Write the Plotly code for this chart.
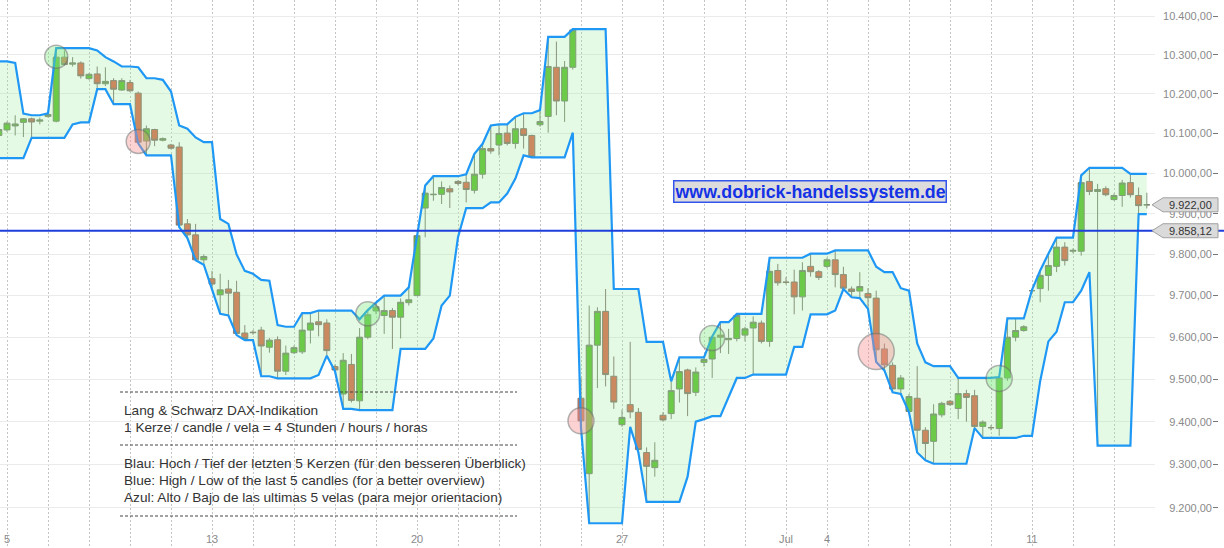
import numpy as np
import pandas as pd
import plotly.graph_objects as go

# ---------------- data (4h candles, index = candle number) ----------------
candle_idx = list(range(-4, 140))
open_ = [10270, 10240, 10140, 10095,
         10109, 10119, 10128, 10137, 10131, 10143, 10131, 10294, 10276, 10279,
         10239, 10251, 10226, 10234, 10210, 10229, 10202, 10081, 10110, 10083,
         10071, 10066, 9875, 9848, 9787, 9741, 9702, 9716, 9708, 9610,
         9612, 9617, 9576, 9594, 9519, 9563, 9565, 9617, 9637, 9634,
         9530, 9465, 9535, 9449, 9600, 9663, 9652, 9664, 9648, 9683,
         9700, 9914, 9947, 9948, 9962, 9980, 9978, 9958, 9998, 10062,
         10071, 10101, 10075, 10112, 10095, 10122, 10143, 10268, 10182, 10268,
         9455, 9279, 9581, 9662, 9507, 9393, 9440, 9422, 9328, 9293,
         9415, 9419, 9477, 9522, 9469, 9540, 9548, 9605, 9594, 9597,
         9605, 9622, 9634, 9590, 9761, 9733, 9733, 9697, 9771, 9758,
         9771, 9787, 9751, 9716, 9711, 9705, 9694, 9572, 9533, 9477,
         9424, 9455, 9380, 9354, 9416, 9448, 9431, 9466, 9461, 9389,
         9386, 9384, 9503, 9600, 9616, 9712, 9717, 9749, 9771, 9818,
         9808, 9808, 9980, 9955, 9962, 9935, 9945, 9977, 9945, 9922]
high = [10283, 10279, 10150, 10130,
        10130, 10146, 10139, 10140, 10140, 10151, 10317, 10311, 10294, 10283,
        10253, 10270, 10268, 10240, 10240, 10236, 10206, 10120, 10112, 10090,
        10074, 10078, 9887, 9875, 9800, 9760, 9753, 9738, 9736, 9629,
        9617, 9625, 9598, 9602, 9580, 9580, 9658, 9656, 9664, 9643,
        9535, 9562, 9560, 9622, 9665, 9683, 9700, 9670, 9693, 9720,
        9848, 9970, 9993, 9980, 9970, 9983, 9998, 10049, 10074, 10120,
        10123, 10123, 10142, 10151, 10097, 10159, 10346, 10334, 10284, 10366,
        9503, 9676, 9672, 9716, 9554, 9428, 9589, 9432, 9340, 9352,
        9422, 9495, 9552, 9525, 9528, 9552, 9602, 9636, 9620, 9656,
        9625, 9650, 9640, 9792, 9777, 9745, 9763, 9781, 9802, 9762,
        9792, 9810, 9770, 9722, 9757, 9718, 9712, 9585, 9540, 9510,
        9465, 9531, 9387, 9441, 9447, 9451, 9503, 9475, 9475, 9403,
        9392, 9505, 9645, 9644, 9629, 9714, 9761, 9802, 9841, 9830,
        9815, 9995, 10014, 9974, 9968, 9950, 9984, 9999, 9965, 9952]
low = [10230, 10150, 10038, 10090,
       10104, 10095, 10091, 10089, 10123, 10140, 10128, 10272, 10270, 10239,
       10236, 10212, 10220, 10174, 10208, 10205, 10075, 10045, 10068, 10080,
       10060, 9867, 9840, 9786, 9775, 9715, 9656, 9652, 9605, 9593,
       9606, 9507, 9563, 9502, 9510, 9560, 9560, 9585, 9602, 9556,
       9519, 9430, 9445, 9427, 9595, 9655, 9608, 9572, 9597, 9676,
       9700, 9842, 9932, 9924, 9914, 9970, 9928, 9950, 9987, 10049,
       10045, 10070, 10062, 10062, 10040, 10117, 10102, 10146, 10129, 10262,
       9385, 9165, 9479, 9483, 9430, 9388, 9408, 9328, 9214, 9272,
       9400, 9406, 9445, 9413, 9460, 9530, 9503, 9562, 9560, 9590,
       9590, 9511, 9585, 9577, 9724, 9727, 9655, 9664, 9746, 9738,
       9767, 9720, 9716, 9696, 9694, 9668, 9541, 9521, 9469, 9465,
       9422, 9328, 9310, 9302, 9410, 9437, 9406, 9400, 9385, 9362,
       9380, 9367, 9496, 9590, 9613, 9708, 9684, 9712, 9757, 9773,
       9803, 9797, 9946, 9344, 9943, 9932, 9917, 9940, 9899, 9913]
close = [10240, 10160, 10095, 10110,
         10126, 10124, 10137, 10129, 10134, 10148, 10294, 10275, 10279, 10246,
         10250, 10226, 10232, 10212, 10234, 10208, 10078, 10112, 10083, 10087,
         10063, 9872, 9848, 9787, 9795, 9728, 9714, 9706, 9609, 9597,
         9611, 9579, 9593, 9519, 9562, 9575, 9617, 9634, 9630, 9568,
         9522, 9545, 9450, 9600, 9654, 9673, 9664, 9648, 9684, 9690,
         9846, 9951, 9948, 9965, 9954, 9975, 9960, 9998, 10062, 10056,
         10100, 10075, 10112, 10095, 10041, 10130, 10270, 10182, 10268, 10364,
         9402, 9581, 9662, 9511, 9446, 9410, 9423, 9335, 9296, 9310,
         9404, 9473, 9518, 9466, 9517, 9547, 9600, 9600, 9597, 9652,
         9620, 9636, 9590, 9759, 9731, 9732, 9697, 9761, 9758, 9744,
         9787, 9751, 9718, 9710, 9722, 9695, 9570, 9534, 9477, 9503,
         9459, 9380, 9349, 9418, 9443, 9440, 9466, 9457, 9389, 9399,
         9386, 9503, 9600, 9616, 9625, 9712, 9749, 9773, 9818, 9785,
         9810, 9977, 9955, 9960, 9947, 9945, 9976, 9947, 9920, 9922]

# breakout signals
sig_green_idx = [6, 44, 86, 121]
sig_green_price = [10295, 9656, 9598, 9502]
sig_green_size = [23, 24, 25, 26]
sig_red_idx = [16, 70, 106]
sig_red_price = [10080, 9402, 9566]
sig_red_size = [24, 26, 36]

# axis ticks
day_tick_idx = [0, 25, 50, 75, 95, 100, 125]
day_tick_text = ["5", "13", "20", "27", "Jul", "4", "11"]
day_grid_idx = list(range(0, 140, 5))
price_ticks = [9200, 9300, 9400, 9500, 9600, 9700, 9800, 9900,
               10000, 10100, 10200, 10300, 10400]
last_price = 9922.00
ref_line = 9858.12

# ---------------- derived: high / low of the last 5 candles ----------------
upper = pd.Series(high).rolling(5, min_periods=1).max().tolist()
lower = pd.Series(low).rolling(5, min_periods=1).min().tolist()

def de_fmt(v):
    s = f"{v:,.2f}"
    return s.replace(",", "X").replace(".", ",").replace("X", ".")

W, H = 1224, 548
XDOM = 1155 / W
YLO, YHI = np.log10(9108.7), np.log10(10441.6)
FONT = "Liberation Sans, Arial, sans-serif"

def yfrac(v):
    return (np.log10(v) - YLO) / (YHI - YLO)

fig = go.Figure()

fig.add_trace(go.Scatter(x=candle_idx, y=lower, mode="lines",
                         line=dict(color="#1f98f5", width=2.2),
                         hoverinfo="skip", showlegend=False))
fig.add_trace(go.Scatter(x=candle_idx, y=upper, mode="lines",
                         line=dict(color="#1f98f5", width=2.2),
                         fill="tonexty", fillcolor="rgba(150,235,150,0.25)",
                         hoverinfo="skip", showlegend=False))

fig.add_trace(go.Candlestick(
    x=candle_idx, open=open_, high=high, low=low, close=close,
    increasing=dict(fillcolor="#5cbf2e", line=dict(color="#7b8570", width=1)),
    decreasing=dict(fillcolor="#dc684c", line=dict(color="#85776f", width=1)),
    whiskerwidth=0, showlegend=False))

fig.add_trace(go.Scatter(x=sig_green_idx, y=sig_green_price, mode="markers",
                         marker=dict(size=sig_green_size, color="rgba(120,235,120,0.5)",
                                     line=dict(color="rgba(110,110,110,0.75)", width=1.5)),
                         hoverinfo="skip", showlegend=False))
fig.add_trace(go.Scatter(x=sig_red_idx, y=sig_red_price, mode="markers",
                         marker=dict(size=sig_red_size, color="rgba(250,140,140,0.55)",
                                     line=dict(color="rgba(110,110,110,0.75)", width=1.5)),
                         hoverinfo="skip", showlegend=False))

tick_lookup = dict(zip(day_tick_idx, day_tick_text))
x_tickvals = sorted(set(day_grid_idx) | set(day_tick_idx))
x_ticktext = [tick_lookup.get(v, "") for v in x_tickvals]

shapes = []
annotations = []

# reference line
yl = yfrac(ref_line)
shapes.append(dict(type="line", xref="paper", yref="paper", x0=0, x1=1, y0=yl, y1=yl,
                   line=dict(color="#1f3fdc", width=2), layer="above"))

# price tags
for v in [last_price, ref_line]:
    yc = yfrac(v)
    hh = 7 / H
    xa, xb, xc = 1152 / W, 1163 / W, 1218 / W
    path = (f"M {xa},{yc} L {xb},{yc + hh} L {xc},{yc + hh} "
            f"L {xc},{yc - hh} L {xb},{yc - hh} Z")
    shapes.append(dict(type="path", xref="paper", yref="paper", path=path,
                       fillcolor="#dadada", line=dict(color="#a0a0a0", width=1),
                       layer="above"))
    annotations.append(dict(xref="paper", yref="paper", x=1190 / W, y=yc,
                            text=de_fmt(v), showarrow=False, xanchor="center",
                            yanchor="middle", font=dict(family=FONT, size=11, color="#333")))

# text block
for py in [392, 445, 516]:
    shapes.append(dict(type="line", xref="paper", yref="paper",
                       x0=120 / W, x1=517 / W, y0=1 - py / H, y1=1 - py / H,
                       line=dict(color="#444", width=1, dash="3px,2px"), layer="above"))
text_lines = [
    (410, "Lang & Schwarz DAX-Indikation"),
    (427.5, "1 Kerze / candle / vela = 4 Stunden / hours / horas"),
    (463, "Blau: Hoch / Tief der letzten 5 Kerzen (für den besseren Überblick)"),
    (480.5, "Blue: High / Low of the last 5 candles (for a better overview)"),
    (497.5, "Azul: Alto / Bajo de las ultimas 5 velas (para mejor orientacion)"),
]
for py, t in text_lines:
    annotations.append(dict(xref="paper", yref="paper", x=122 / W, y=1 - py / H,
                            text=t, showarrow=False, xanchor="left", yanchor="middle",
                            font=dict(family=FONT, size=13.65, color="#333")))

annotations.append(dict(xref="paper", yref="paper", x=810 / W, y=1 - 191.5 / H,
                        text="<b>www.dobrick-handelssystem.de</b>", showarrow=False,
                        xanchor="center", yanchor="middle",
                        font=dict(family=FONT, size=17.8, color="#1432e6"),
                        bgcolor="#dcdcdc", bordercolor="#3355ee", borderwidth=1.5,
                        borderpad=0))

fig.update_layout(
    width=W, height=H,
    margin=dict(l=0, r=0, t=0, b=0),
    paper_bgcolor="white", plot_bgcolor="white",
    boxgap=0.27, boxgroupgap=0,
    shapes=shapes, annotations=annotations,
    xaxis=dict(domain=[0, XDOM], range=[-0.854, 140.0],
               tickvals=x_tickvals, ticktext=x_ticktext,
               showgrid=True, gridcolor="#c4c4c4", griddash="2px,2px", gridwidth=1,
               ticklabelposition="inside", ticks="",
               tickfont=dict(family=FONT, size=11, color="#8a8a8a"),
               zeroline=False, showline=False, rangeslider=dict(visible=False),
               fixedrange=True),
    yaxis=dict(type="log", range=[YLO, YHI], anchor="free", position=1212 / W,
               side="left", tickvals=price_ticks,
               ticktext=[de_fmt(v) for v in price_ticks],
               ticks="inside", ticklen=5, tickcolor="#777", tickwidth=1,
               tickfont=dict(family=FONT, size=11, color="#8a8a8a"),
               showgrid=True, gridcolor="#ebebeb", gridwidth=1,
               zeroline=False, showline=False, fixedrange=True),
)

fig.write_html("out.html")
